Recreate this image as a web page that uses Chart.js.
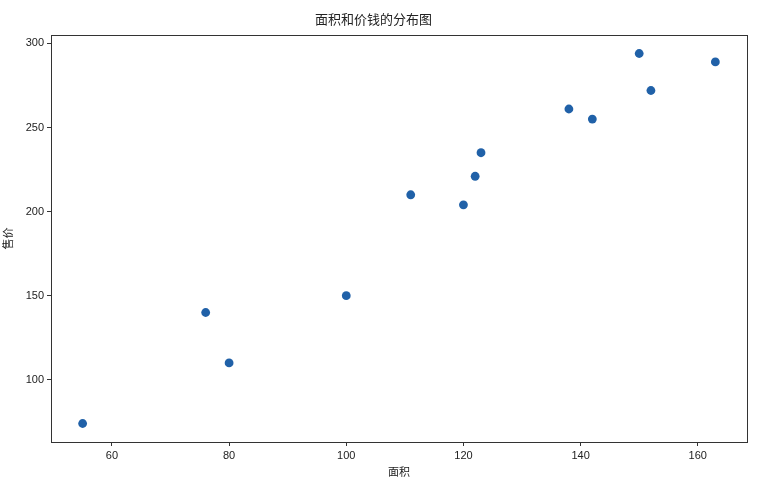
<!DOCTYPE html>
<html>
<head>
<meta charset="utf-8">
<script src="https://cdn.jsdelivr.net/npm/chart.js@4"></script>
<style>
  body { margin: 0; background: #fff; }
</style>
</head>
<body>
<canvas id="myChart" width="778" height="482"></canvas>
<script>
  // area (x) vs price (y)
  const areas  = [55, 76, 80, 100, 111, 120, 122, 123, 138, 142, 150, 152, 163];
  const prices = [74, 140, 110, 150, 210, 204, 221, 235, 261, 255, 294, 272, 289];
  const xTicks = [60, 80, 100, 120, 140, 160];
  const yTicks = [100, 150, 200, 250, 300];

  const fontFamily = '"Liberation Sans", "Noto Sans CJK SC", sans-serif';
  const ink = '#222';

  // matplotlib-like frame on all four sides
  const frame = {
    id: 'frame',
    afterDraw(chart) {
      const a = chart.chartArea;
      const c = chart.ctx;
      c.save();
      c.strokeStyle = '#333';
      c.lineWidth = 1;
      c.strokeRect(Math.round(a.left) + 0.5, Math.round(a.top) + 0.5,
                   Math.round(a.right - a.left), Math.round(a.bottom - a.top));
      c.restore();
    }
  };

  window.addEventListener('load', setup);

  function setup() {
    const ctx = document.getElementById('myChart').getContext('2d');
    new Chart(ctx, {
      type: 'scatter',
      data: {
        datasets: [{
          data: areas.map((a, i) => ({ x: a, y: prices[i] })),
          backgroundColor: '#2061a8',
          borderWidth: 0,
          pointRadius: 4.4,
          pointHoverRadius: 4.4
        }]
      },
      options: {
        responsive: false,
        animation: false,
        layout: { padding: { left: 0, right: 31, top: 0, bottom: 0 } },
        plugins: {
          legend: { display: false },
          tooltip: { enabled: false },
          title: {
            display: true,
            text: '面积和价钱的分布图',
            color: ink,
            font: { family: fontFamily, size: 13, weight: 'normal' },
            padding: { top: 13, bottom: 6.4 }
          }
        },
        scales: {
          x: {
            type: 'linear',
            min: 49.6,
            max: 168.4,
            afterBuildTicks: s => { s.ticks = xTicks.map(v => ({ value: v })); },
            afterFit: s => { s.height = 40; },
            grid: { drawOnChartArea: false, drawTicks: true, tickLength: 4, color: '#333' },
            border: { display: true, color: '#333' },
            ticks: { color: ink, font: { family: fontFamily, size: 11 }, padding: 3, maxRotation: 0 },
            title: {
              display: true, text: '面积', color: ink,
              font: { family: fontFamily, size: 11 }, padding: { top: 2, bottom: 2 }
            }
          },
          y: {
            type: 'linear',
            min: 63,
            max: 305,
            afterBuildTicks: s => { s.ticks = yTicks.map(v => ({ value: v })); },
            afterFit: s => { s.width = 51; },
            grid: { drawOnChartArea: false, drawTicks: true, tickLength: 4, color: '#333' },
            border: { display: true, color: '#333' },
            ticks: { color: ink, font: { family: fontFamily, size: 11 }, padding: 3 },
            title: {
              display: true, text: '售价', color: ink,
              font: { family: fontFamily, size: 11 }, padding: { top: 2, bottom: 2 }
            }
          }
        }
      },
      plugins: [frame]
    });
  }
</script>
</body>
</html>
